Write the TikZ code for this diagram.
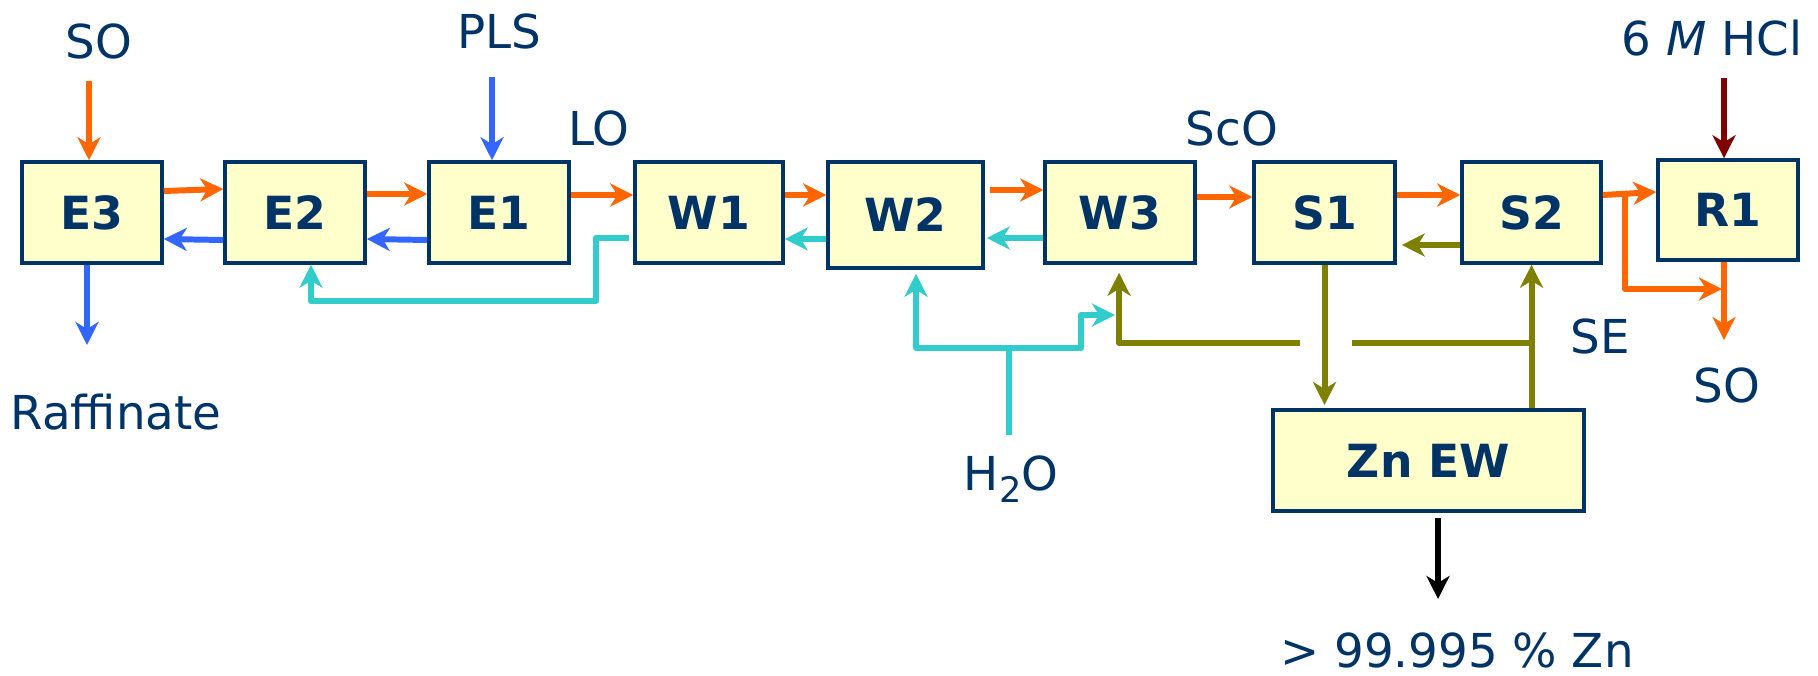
\documentclass[tikz,border=0pt]{standalone}
\usepackage{fontspec}
\setmainfont{DejaVu Sans}
\usetikzlibrary{arrows.meta,calc}
\definecolor{navy}{RGB}{0,51,102}
\definecolor{orng}{RGB}{255,102,0}
\definecolor{blu}{RGB}{51,102,255}
\definecolor{cyn}{RGB}{51,204,204}
\definecolor{olv}{RGB}{128,128,0}
\definecolor{drd}{RGB}{128,0,0}
\definecolor{boxfill}{RGB}{255,255,204}
\begin{document}
\begin{tikzpicture}[x=0.1mm,y=-0.1mm,
  unit/.style={draw=navy, line width=1pt, fill=boxfill, inner sep=0pt, text=navy,
    minimum width=14mm, minimum height=10.1mm, font=\fontsize{13}{13}\bfseries\selectfont},
  lbl/.style={text=navy, font=\fontsize{13.3}{14}\selectfont, inner sep=0pt},
  pipe/.style={line width=1.7pt, line join=round},
  flow/.style={pipe, -{Stealth[length=2.3mm,width=2.3mm,inset=0.7mm]}}]
\fill[white] (0,0) rectangle (1818,675);
\useasboundingbox (0,0) rectangle (1818,675);

% units
\node[unit] (E3) at (92,212.5) {E3};
\node[unit] (E2) at (295,212.5) {E2};
\node[unit] (E1) at (499,212.5) {E1};
\node[unit, minimum width=14.8mm] (W1) at (709,212.5) {W1};
\node[unit, minimum width=15.5mm, minimum height=10.6mm] (W2) at (905.5,215) {W2};
\node[unit, minimum width=15mm] (W3) at (1120,212.5) {W3};
\node[unit, minimum width=14.1mm] (S1) at (1324.5,212.5) {S1};
\node[unit, minimum width=13.9mm] (S2) at (1531.5,212.5) {S2};
\node[unit, minimum height=10mm] (R1) at (1728,210) {R1};
\node[unit, minimum width=31.1mm] (ZnEW) at (1428.5,460.5) {Zn EW};

% labels
\node[lbl] (SOa) at (99,41) {SO};
\node[lbl] (Raf) at (116,412) {Raffinate};
\node[lbl] (PLS) at (499,31) {PLS};
\node[lbl] (LO) at (599,128) {LO};
\node[lbl] (ScO) at (1232,128) {ScO};
\node[lbl] (HCl) at (1712,38) {6 \textit{M} HCl};
\node[lbl] (SOb) at (1727,385) {SO};
\node[lbl] (SE) at (1600,336) {SE};
\node[lbl] (H2O) at (1011,479) {H\raisebox{-0.45ex}{\fontsize{10}{10}\selectfont 2}O};
\node[lbl] (Zn) at (1457,650) {> 99.995 \% Zn};

% extraction
\coordinate (SOaT) at (89,81);
\draw[flow,orng] (SOaT) -- (SOaT |- E3.north);
\draw[flow,orng] (E3.east |- 0,191) -- (E2.west |- 0,189);
\draw[flow,blu] (E2.west |- 0,240) -- (E3.east |- 0,239);
\coordinate (RafT) at (87,345);
\draw[flow,blu] (RafT |- E3.south) -- (RafT);
\draw[flow,orng] (E2.east |- 0,194) -- (E1.west |- 0,194);
\draw[flow,blu] (E1.west |- 0,240) -- (E2.east |- 0,239);
\coordinate (PLST) at (492,77);
\draw[flow,blu] (PLST) -- (PLST |- E1.north);
\draw[flow,orng] (E1.east |- 0,195) -- (W1.west |- 0,195);
\draw[flow,cyn] ([xshift=-0.4mm]W1.west |- 0,238) -- (596,238) -- (596,301) -- (311,301) -- (311,0 |- E2.south);

% washing
\draw[flow,orng] (W1.east |- 0,195) -- (W2.west |- 0,195);
\draw[flow,cyn] (W2.west |- 0,239) -- (W1.east |- 0,239);
\draw[flow,orng] ([xshift=0.5mm]W2.east |- 0,190) -- (W3.west |- 0,190);
\draw[flow,cyn] (W3.west |- 0,238) -- ([xshift=0.2mm]W2.east |- 0,238);
\draw[flow,orng] (W3.east |- 0,197) -- (S1.west |- 0,197);

% water
\coordinate (hw) at (1009,435);
\coordinate (hj) at (1009,348);
\draw[pipe,cyn] (hw) -- (hj);
\draw[flow,cyn] (hj) -- (916,348) -- ([yshift=-0.4mm]916,0 |- W2.south);
\draw[flow,cyn] (hj) -- (1081,348) -- (1081,315) -- (1115,315);

% stripping
\draw[flow,orng] (S1.east |- 0,195) -- (S2.west |- 0,195);
\draw[flow,olv] (S2.west |- 0,245) -- ([xshift=0.5mm]S1.east |- 0,245);
\draw[flow,orng] (S2.east |- 0,195) -- (R1.west |- 0,192);
\coordinate (br) at (1625,194);
\draw[flow,orng] (br) -- (1625,289) -- (1722,289);
\coordinate (R1o) at (1724,340);
\draw[flow,orng] (R1o |- R1.south) -- (R1o);
\coordinate (HClT) at (1724,78);
\draw[flow,drd] (HClT) -- (HClT |- R1.north);

% spent electrolyte / electrowinning
\draw[flow,olv] (S1.south) -- (S1.south |- 0,405);
\draw[flow,olv] (S2.south |- ZnEW.north) -- (S2.south);
\draw[pipe,olv] (S2.south |- 0,343) -- (1352,343);
\draw[flow,olv] (1300,343) -- (1119,343) -- ([yshift=-0.8mm]1119,0 |- W3.south);
\coordinate (ZnT) at (1438,599);
\draw[flow,black] ([yshift=-0.5mm]ZnT |- ZnEW.south) -- (ZnT);
\end{tikzpicture}
\end{document}
